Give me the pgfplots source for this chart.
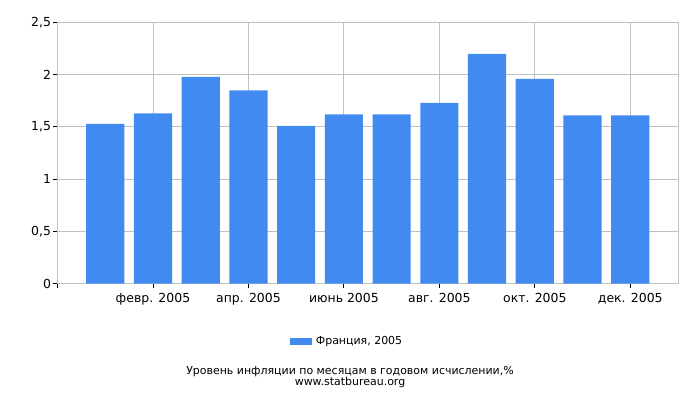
\documentclass[border=0pt]{standalone}
\usepackage{pgfplots}
\pgfplotsset{compat=1.18}
\usepackage{fontspec}
\setmainfont{DejaVu Sans}
\definecolor{barblue}{HTML}{418BF0}
\definecolor{gridgray}{HTML}{C0C0C0}

\begin{document}
\begin{tikzpicture}
\useasboundingbox (-57.5bp,-116.5bp) rectangle (642.5bp,283.5bp);
\begin{axis}[
    at={(0bp,0bp)}, anchor=south west,
    scale only axis,
    width=620.5bp, height=261bp,
    xmin=0, xmax=13,
    ymin=0, ymax=2.5,
    xtick={0,2,4,6,8,10,12},
    xticklabels={,февр. 2005,апр. 2005,июнь 2005,авг. 2005,окт. 2005,дек. 2005},
    ytick={0,0.5,1,1.5,2,2.5},
    xtick pos=left, ytick pos=left,
    tick align=outside,
    major tick length=4bp,
    tick style={black, line width=0.8bp},
    grid=major,
    grid style={gridgray, line width=0.8bp},
    axis line style={gridgray, line width=0.8bp},
    /pgf/number format/assume math mode=true,
    /pgf/number format/use comma,
    tick label style={font=\fontsize{12.5}{14}\selectfont},
    yticklabel style={xshift=1bp},
    xticklabel style={yshift=-2bp},
    ybar, bar width=0.8,
    legend style={at={(0.4666,-0.2203)}, anchor=center, draw=none,
        font=\fontsize{11}{13}\selectfont},
    legend image code/.code={\fill[barblue] (0bp,-3.5bp) rectangle (22bp,3.5bp);},
]
\addplot[fill=barblue, draw=none] coordinates {
    (1,1.53) (2,1.63) (3,1.98) (4,1.85) (5,1.51) (6,1.62)
    (7,1.62) (8,1.73) (9,2.20) (10,1.96) (11,1.61) (12,1.61)
};
\addlegendentry{\hspace{2bp}Франция, 2005}
\end{axis}
\node[font=\fontsize{11}{13}\selectfont] at (292.5bp,-88.2bp) {Уровень инфляции по месяцам в годовом исчислении,\%};
\node[font=\fontsize{11}{13}\selectfont] at (292.5bp,-98.7bp) {www.statbureau.org};
\end{tikzpicture}
\end{document}
